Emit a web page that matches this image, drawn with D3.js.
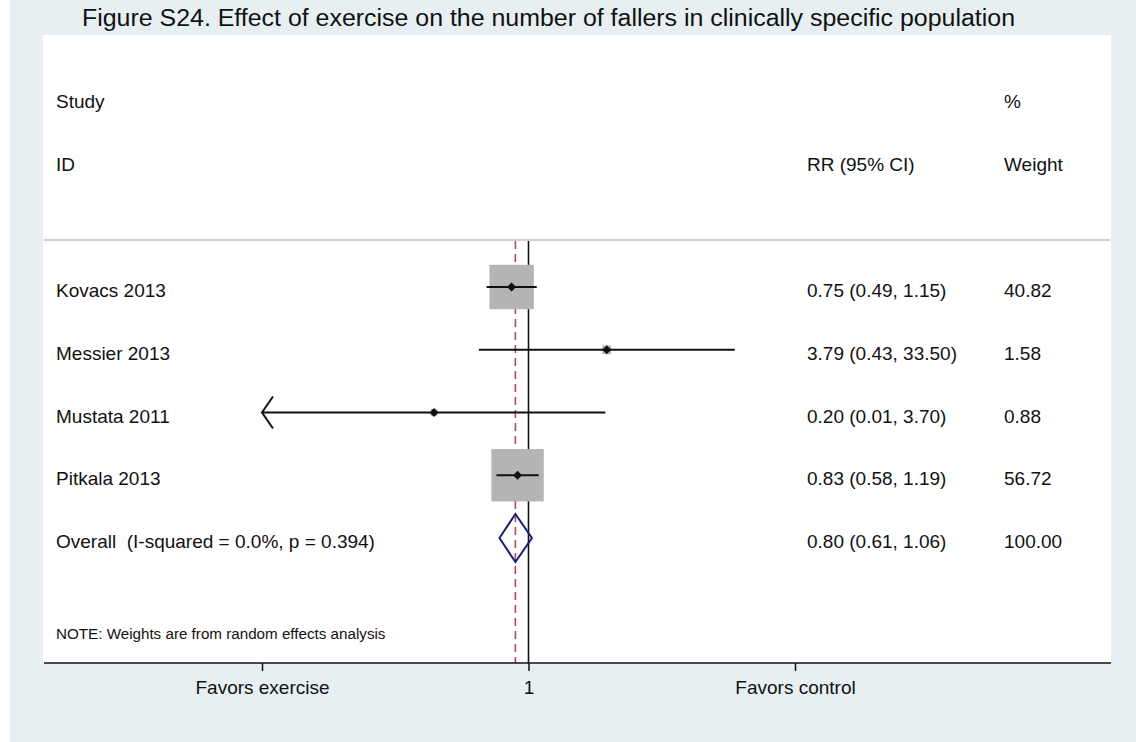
<!DOCTYPE html>
<html>
<head>
<meta charset="utf-8">
<script src="https://cdn.jsdelivr.net/npm/d3@7"></script>
<style>
  html, body { margin: 0; padding: 0; background: #ffffff; }
  svg { display: block; }
  text { font-family: "Liberation Sans", Arial, Helvetica, sans-serif; fill: #111; white-space: pre; }
</style>
</head>
<body>
<svg id="chart" width="1136" height="742"></svg>
<script>
// Study-level estimates (risk ratio with 95% CI) and random-effects weights
const studies = ["Kovacs 2013", "Messier 2013", "Mustata 2011", "Pitkala 2013"];
const rr      = [0.75, 3.79, 0.20, 0.83];
const lower   = [0.49, 0.43, 0.01, 0.58];
const upper   = [1.15, 33.50, 3.70, 1.19];
const weights = [40.82, 1.58, 0.88, 56.72];

// Pooled estimate
const overallLabel  = "Overall  (I-squared = 0.0%, p = 0.394)";
const overallRR     = 0.80;
const overallLower  = 0.61;
const overallUpper  = 1.06;
const overallWeight = 100.00;

// Symmetric log axis: limits and tick labels
const axisLimit  = 0.0107;
const tickValues = [axisLimit, 1, 1 / axisLimit];
const tickLabels = ["Favors exercise", "1", "Favors control"];

const titleText = "Figure S24. Effect of exercise on the number of fallers in clinically specific population";
const noteText  = "NOTE: Weights are from random effects analysis";

const W = 1136, H = 742;
const plot = { left: 43, right: 1111, top: 35, bottom: 663 };
const col = { study: 56, ci: 807, weight: 1004 };

const svg = d3.select("#chart");

// Page background and white plot region
svg.append("rect").attr("x", 10).attr("y", 0).attr("width", W - 10).attr("height", H).attr("fill", "#e8eff2");
svg.append("rect").attr("x", plot.left).attr("y", plot.top)
  .attr("width", plot.right - plot.left).attr("height", plot.bottom - plot.top).attr("fill", "#ffffff");

// Title
svg.append("text").attr("x", 82).attr("y", 26).attr("font-size", 23.5)
  .attr("textLength", 933).attr("lengthAdjust", "spacingAndGlyphs").text(titleText);

// Scales
const x = d3.scaleLog().domain([axisLimit, 1 / axisLimit]).range([262, 795]);
const y = d3.scaleLinear().domain([0, 4]).range([287, 538]);
const boxSide = w => 6.95 * Math.sqrt(w);

const fs = 19;

// Column headers
svg.append("text").attr("x", col.study).attr("y", 108).attr("font-size", fs).text("Study");
svg.append("text").attr("x", col.study).attr("y", 171).attr("font-size", fs).text("ID");
svg.append("text").attr("x", col.ci).attr("y", 171).attr("font-size", fs).text("RR (95% CI)");
svg.append("text").attr("x", col.weight).attr("y", 108).attr("font-size", fs).text("%");
svg.append("text").attr("x", col.weight).attr("y", 171).attr("font-size", fs).text("Weight");

// Header separator
svg.append("line").attr("x1", plot.left + 1).attr("x2", plot.right - 1).attr("y1", 240).attr("y2", 240)
  .attr("stroke", "#cfcfcf").attr("stroke-width", 2);

// Reference lines: no effect (solid) and pooled estimate (dashed)
const lineTop = 241, lineBottom = plot.bottom;
svg.append("line").attr("x1", x(1)).attr("x2", x(1)).attr("y1", lineTop).attr("y2", lineBottom)
  .attr("stroke", "#111").attr("stroke-width", 1.6);
svg.append("line").attr("x1", x(overallRR)).attr("x2", x(overallRR)).attr("y1", lineTop).attr("y2", lineBottom)
  .attr("stroke", "#b84654").attr("stroke-width", 1.6).attr("stroke-dasharray", "8,5");

const fmt = d3.format(".2f");
const rows = studies.map((s, i) => ({ s, rr: rr[i], lo: lower[i], hi: upper[i], w: weights[i], i }));

// Weight boxes
svg.selectAll("rect.box").data(rows).join("rect").attr("class", "box")
  .attr("x", d => x(d.rr) - boxSide(d.w) / 2)
  .attr("y", d => y(d.i) - boxSide(d.w) / 2)
  .attr("width", d => boxSide(d.w)).attr("height", d => boxSide(d.w))
  .attr("fill", "#b4b4b4");

// Confidence intervals, clipped to the axis range with an arrow where truncated
const [dMin, dMax] = x.domain();
rows.forEach(d => {
  const x0 = x(Math.max(d.lo, dMin)), x1 = x(Math.min(d.hi, dMax)), yy = y(d.i);
  svg.append("line").attr("x1", x0).attr("x2", x1).attr("y1", yy).attr("y2", yy)
    .attr("stroke", "#111").attr("stroke-width", 2);
  if (d.lo < dMin) {
    svg.append("path").attr("d", `M${x0 + 11},${yy - 16}L${x0},${yy}L${x0 + 11},${yy + 16}`)
      .attr("fill", "none").attr("stroke", "#111").attr("stroke-width", 2);
  }
  if (d.hi > dMax) {
    svg.append("path").attr("d", `M${x1 - 11},${yy - 16}L${x1},${yy}L${x1 - 11},${yy + 16}`)
      .attr("fill", "none").attr("stroke", "#111").attr("stroke-width", 2);
  }
});

// Point estimates
svg.selectAll("path.pt").data(rows).join("path").attr("class", "pt")
  .attr("d", d => { const cx = x(d.rr), cy = y(d.i), r = 4.5; return `M${cx},${cy - r}L${cx + r},${cy}L${cx},${cy + r}L${cx - r},${cy}Z`; })
  .attr("fill", "#111");

// Pooled diamond
const oy = y(4), dh = 24;
svg.append("path")
  .attr("d", `M${x(overallLower)},${oy}L${x(overallRR)},${oy - dh}L${x(overallUpper)},${oy}L${x(overallRR)},${oy + dh}Z`)
  .attr("fill", "none").attr("stroke", "#1c1c80").attr("stroke-width", 2);

// Row text
rows.forEach(d => {
  const by = y(d.i) + 10;
  svg.append("text").attr("x", col.study).attr("y", by).attr("font-size", fs).text(d.s);
  svg.append("text").attr("x", col.ci).attr("y", by).attr("font-size", fs)
    .text(`${fmt(d.rr)} (${fmt(d.lo)}, ${fmt(d.hi)})`);
  svg.append("text").attr("x", col.weight).attr("y", by).attr("font-size", fs).text(fmt(d.w));
});
svg.append("text").attr("x", col.study).attr("y", oy + 10).attr("font-size", fs)
  .attr("xml:space", "preserve").text(overallLabel);
svg.append("text").attr("x", col.ci).attr("y", oy + 10).attr("font-size", fs)
  .text(`${fmt(overallRR)} (${fmt(overallLower)}, ${fmt(overallUpper)})`);
svg.append("text").attr("x", col.weight).attr("y", oy + 10).attr("font-size", fs).text(fmt(overallWeight));

// Note
svg.append("text").attr("x", col.study).attr("y", 639).attr("font-size", 15.2).text(noteText);

// Axis
const axisG = svg.append("g").attr("transform", `translate(0,${plot.bottom})`);
axisG.append("line").attr("x1", plot.left + 1).attr("x2", plot.right).attr("y1", 0).attr("y2", 0)
  .attr("stroke", "#111").attr("stroke-width", 1.6);
const axis = d3.axisBottom(x).tickValues(tickValues).tickSize(8).tickPadding(10)
  .tickFormat((d, i) => tickLabels[i]);
const ag = axisG.append("g").call(axis);
ag.select(".domain").remove();
ag.selectAll(".tick line").attr("stroke", "#111").attr("stroke-width", 1.5);
ag.selectAll(".tick text").attr("font-size", fs).attr("fill", "#111")
  .attr("font-family", "'Liberation Sans', Arial, Helvetica, sans-serif");
</script>
</body>
</html>
